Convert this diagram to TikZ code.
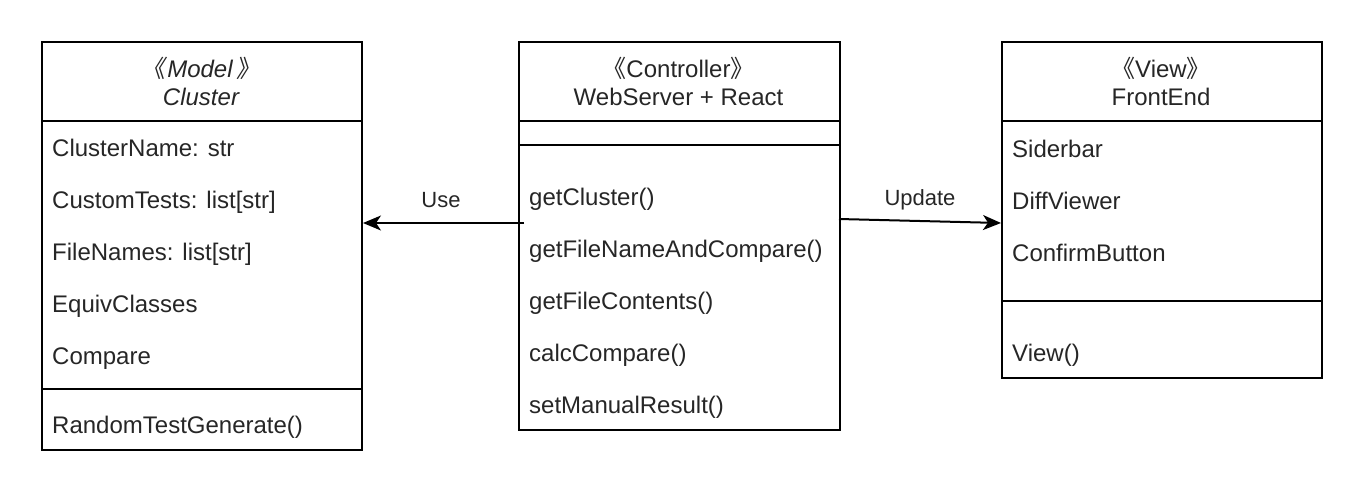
\documentclass[tikz,border=0pt]{standalone}
\usepackage{fontspec}
\setmainfont{Liberation Sans}
\newfontfamily\cjk{Noto Sans CJK SC}
\newfontfamily\cjkit[FakeSlant=0.15]{Noto Sans CJK SC}
\usetikzlibrary{arrows.meta}
\begin{document}
\begin{tikzpicture}[x=1pt,y=-1pt,
  every node/.style={font=\fontsize{24}{28}\selectfont, text=black!85},
  umlbox/.style={draw, line width=2pt, anchor=north west, inner sep=0pt},
  row/.style={anchor=base west, inner sep=0pt},
  head/.style={align=center, inner sep=0pt},
  sep/.style={line width=2pt},
  link/.style={line width=2pt, -{Stealth[length=18pt,width=15pt,inset=5pt]}},
  lbl/.style={inner sep=0pt, font=\fontsize{22}{26}\selectfont}]
\useasboundingbox (0,0) rectangle (1362,496);
% boxes
\node[umlbox, minimum width=320pt, minimum height=408pt] (model) at (41,41) {};
\node[umlbox, minimum width=321pt, minimum height=388pt] (ctrl) at (518,41) {};
\node[umlbox, minimum width=320pt, minimum height=336pt] (view) at (1001,41) {};
% headers
\node[head] (modelh) at (201,81) {\itshape{\cjkit 《}\kern2pt Model\kern4pt{\cjkit 》}\\\itshape Cluster};
\node[head] (ctrlh) at (678.5,81) {{\cjk 《}Controller{\cjk 》}\\WebServer + React};
\node[head] (viewh) at (1161,81) {{\cjk 《}View{\cjk 》}\\FrontEnd};
% separators
\draw[sep] (model.west |- 0,121) -- (model.east |- 0,121);
\draw[sep] (model.west |- 0,389) -- (model.east |- 0,389);
\draw[sep] (ctrl.west |- 0,121) -- (ctrl.east |- 0,121);
\draw[sep] (ctrl.west |- 0,145) -- (ctrl.east |- 0,145);
\draw[sep] (view.west |- 0,121) -- (view.east |- 0,121);
\draw[sep] (view.west |- 0,301) -- (view.east |- 0,301);
% model rows
\node[row] (m1) at (52,156) {ClusterName: str};
\node[row] (m2) at (52,208) {CustomTests: list[str]};
\node[row] (m3) at (52,260) {FileNames: list[str]};
\node[row] (m4) at (52,312) {EquivClasses};
\node[row] (m5) at (52,364) {Compare};
\node[row] (m6) at (52,433) {RandomTestGenerate()};
% controller rows
\node[row] (c1) at (529,205) {getCluster()};
\node[row] (c2) at (529,257) {getFileNameAndCompare()};
\node[row] (c3) at (529,309) {getFileContents()};
\node[row] (c4) at (529,361) {calcCompare()};
\node[row] (c5) at (529,413) {setManualResult()};
% view rows
\node[row] (v1) at (1012,157) {Siderbar};
\node[row] (v2) at (1012,209) {DiffViewer};
\node[row] (v3) at (1012,261) {ConfirmButton};
\node[row] (v4) at (1012,361) {View()};
% connectors
\coordinate (usestart) at (524,223);
\draw[link] (usestart) -- (usestart -| model.east);
\coordinate (updstart) at (839,219);
\coordinate (updend) at (1001,223);
\draw[link] (updstart) -- (updend);
\node[lbl] (uselbl) at (441,200) {Use};
\node[lbl] (updlbl) at (920,200) {Update};
\end{tikzpicture}
\end{document}
